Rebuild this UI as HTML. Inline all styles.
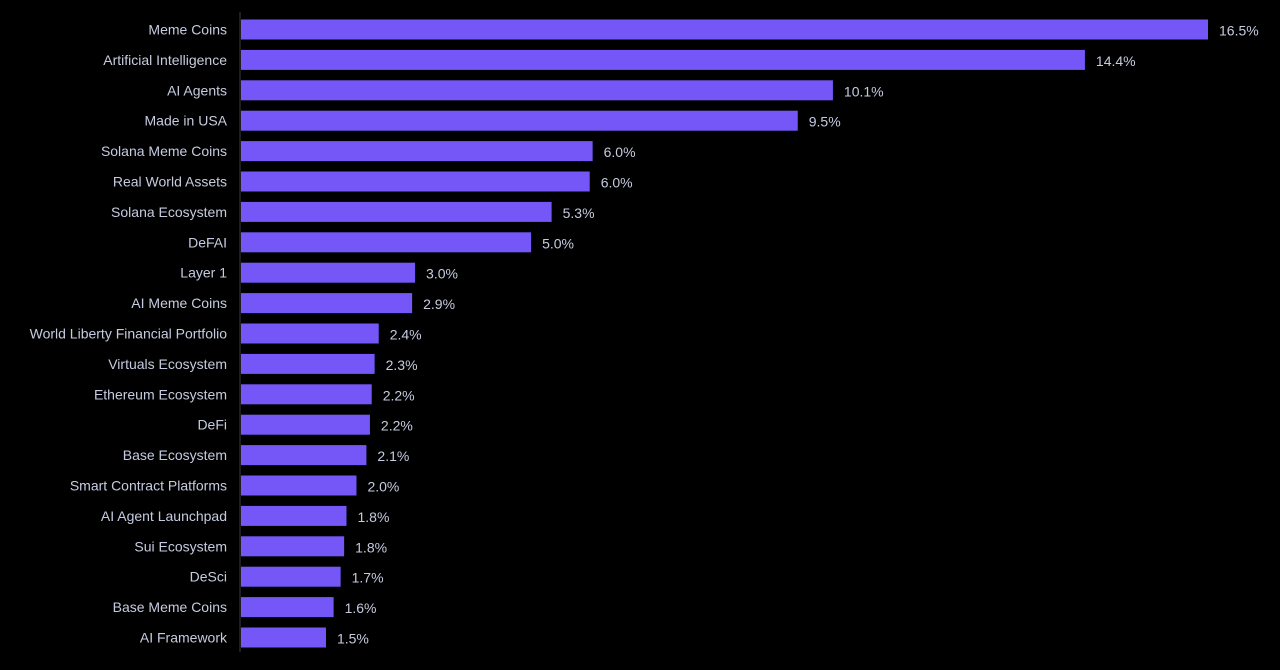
<!DOCTYPE html>
<html><head><meta charset="utf-8"><style>
html,body{margin:0;padding:0;background:#000;}
svg{display:block;}
</style></head><body>
<svg id="chart" width="1280" height="670" xmlns="http://www.w3.org/2000/svg" font-family="Liberation Sans, sans-serif">
<rect x="0" y="0" width="1280" height="670" fill="#000"/>
<g id="bars"></g>
<line x1="240" y1="12" x2="240" y2="652" stroke="#3a3a44" stroke-width="1"/>
</svg>
<script>
const categories = ["Meme Coins","Artificial Intelligence","AI Agents","Made in USA","Solana Meme Coins","Real World Assets","Solana Ecosystem","DeFAI","Layer 1","AI Meme Coins","World Liberty Financial Portfolio","Virtuals Ecosystem","Ethereum Ecosystem","DeFi","Base Ecosystem","Smart Contract Platforms","AI Agent Launchpad","Sui Ecosystem","DeSci","Base Meme Coins","AI Framework"];
const values = [16.5,14.4,10.1,9.5,6.0,5.95,5.3,4.95,2.97,2.92,2.35,2.28,2.23,2.2,2.14,1.97,1.8,1.76,1.7,1.58,1.45];
const valueLabels = ["16.5%","14.4%","10.1%","9.5%","6.0%","6.0%","5.3%","5.0%","3.0%","2.9%","2.4%","2.3%","2.2%","2.2%","2.1%","2.0%","1.8%","1.8%","1.7%","1.6%","1.5%"];
const x0 = 241, xMax = 16.5, wMax = 967;
const xScale = v => x0 + v / xMax * wMax;
const y0 = 29.5, step = 30.4, bh = 20;
const yScale = i => y0 + i * step;
const NS = "http://www.w3.org/2000/svg";
const g = document.getElementById("bars");
categories.forEach((c, i) => {
  const cy = yScale(i);
  const r = document.createElementNS(NS, "rect");
  
  
  r.setAttribute("x", x0);
  r.setAttribute("y", cy - bh / 2);
  r.setAttribute("width", xScale(values[i]) - x0);
  r.setAttribute("height", bh);
  r.setAttribute("fill", "#7557f7");
  g.appendChild(r);
  const t = document.createElementNS(NS, "text");
  
  
  t.setAttribute("x", 227);
  t.setAttribute("y", cy + 5);
  t.setAttribute("text-anchor", "end");
  t.setAttribute("font-size", "14");
  t.setAttribute("fill", "#c6cbe0");
  t.textContent = c;
  g.appendChild(t);
  const v = document.createElementNS(NS, "text");
  
  
  v.setAttribute("x", xScale(values[i]) + 11);
  v.setAttribute("y", cy + 6);
  v.setAttribute("font-size", "14");
  v.setAttribute("fill", "#c6cbe0");
  v.textContent = valueLabels[i];
  g.appendChild(v);
});
</script>
</body></html>
